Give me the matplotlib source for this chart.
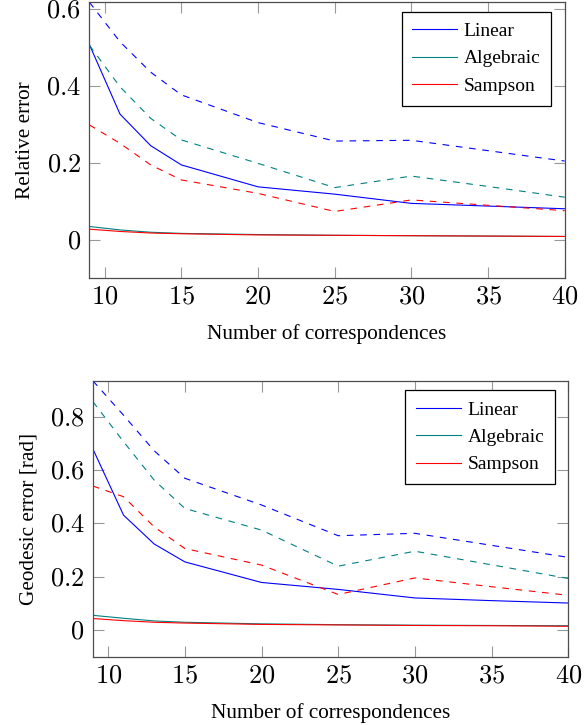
import matplotlib
matplotlib.use("Agg")
import matplotlib.pyplot as plt
from matplotlib.ticker import FuncFormatter

# 공통 x 값 (correspondences 개수)
n_corr = [9, 11, 13, 15, 20, 25, 30, 35, 40]

# 위 그래프: Relative error (실선 / 점선)
rel_linear = [0.508, 0.327, 0.245, 0.195, 0.138, 0.119, 0.095, 0.088, 0.081]
rel_algebraic = [0.035, 0.026, 0.020, 0.017, 0.014, 0.012, 0.011, 0.010, 0.009]
rel_sampson = [0.028, 0.022, 0.018, 0.016, 0.013, 0.012, 0.011, 0.010, 0.009]
rel_linear_d = [0.618, 0.515, 0.436, 0.377, 0.305, 0.257, 0.259, 0.232, 0.205]
rel_algebraic_d = [0.506, 0.398, 0.316, 0.260, 0.199, 0.136, 0.166, 0.139, 0.111]
rel_sampson_d = [0.299, 0.251, 0.195, 0.156, 0.121, 0.074, 0.104, 0.090, 0.076]

# 아래 그래프: Geodesic error [rad]
geo_linear = [0.679, 0.431, 0.323, 0.256, 0.179, 0.153, 0.121, 0.111, 0.102]
geo_algebraic = [0.056, 0.045, 0.035, 0.030, 0.024, 0.021, 0.019, 0.018, 0.017]
geo_sampson = [0.044, 0.036, 0.030, 0.027, 0.022, 0.020, 0.018, 0.017, 0.015]
geo_linear_d = [0.934, 0.805, 0.672, 0.569, 0.469, 0.354, 0.363, 0.318, 0.273]
geo_algebraic_d = [0.856, 0.706, 0.562, 0.456, 0.375, 0.240, 0.296, 0.245, 0.194]
geo_sampson_d = [0.540, 0.500, 0.387, 0.306, 0.244, 0.134, 0.196, 0.163, 0.131]

labels = ["Linear", "Algebraic", "Sampson"]
colors = ["#0000ff", "#008080", "#ff0000"]

plt.rcParams['font.family'] = ['Liberation Serif', 'DejaVu Serif']
plt.rcParams['mathtext.fontset'] = 'cm'

fig = plt.figure(figsize=(5.84, 7.25), dpi=100)
ax1 = fig.add_axes([0.153, 0.616, 0.814, 0.381])
ax2 = fig.add_axes([0.159, 0.0938, 0.814, 0.381])


def tick_fmt(v, pos):
    s = "%g" % round(v, 2)
    return "$" + s + "$"


def draw(ax, solid, dashed, ylabel, yticks):
    for vals, c, lab in zip(solid, colors, labels):
        ax.plot(n_corr, vals, color=c, lw=0.8, label=lab)
    for vals, c in zip(dashed, colors):
        ax.plot(n_corr, vals, color=c, lw=0.8, linestyle=(0, (6, 6)))
    ymax = max(max(v) for v in solid + dashed)
    ax.set_xlim(min(n_corr), max(n_corr))
    ax.set_ylim(-0.1, ymax)
    ax.set_xticks([10, 15, 20, 25, 30, 35, 40])
    ax.set_yticks(yticks)
    ax.xaxis.set_major_formatter(FuncFormatter(tick_fmt))
    ax.yaxis.set_major_formatter(FuncFormatter(tick_fmt))
    ax.tick_params(direction='in', length=8, width=0.8, color='0.6',
                   top=True, right=True, labelsize=19, pad=6)
    for sp in ax.spines.values():
        sp.set_color('0.3')
        sp.set_linewidth(0.9)
    ax.set_xlabel("Number of correspondences", fontsize=15.3, labelpad=11)
    ax.set_ylabel(ylabel, fontsize=15.3, labelpad=8)
    leg = ax.legend(loc='upper right', bbox_to_anchor=(0.972, 0.965),
                    fontsize=14, handlelength=2.3, handletextpad=0.35,
                    fancybox=False, edgecolor='black', framealpha=1,
                    borderpad=0.55, labelspacing=0.5, borderaxespad=0)
    leg.get_frame().set_linewidth(0.9)
    for t in leg.get_texts():
        t.set_ha('center')


draw(ax1, [rel_linear, rel_algebraic, rel_sampson],
     [rel_linear_d, rel_algebraic_d, rel_sampson_d],
     "Relative error", [0, 0.2, 0.4, 0.6])
draw(ax2, [geo_linear, geo_algebraic, geo_sampson],
     [geo_linear_d, geo_algebraic_d, geo_sampson_d],
     "Geodesic error [rad]", [0, 0.2, 0.4, 0.6, 0.8])

fig.savefig("out.png", dpi=100)
